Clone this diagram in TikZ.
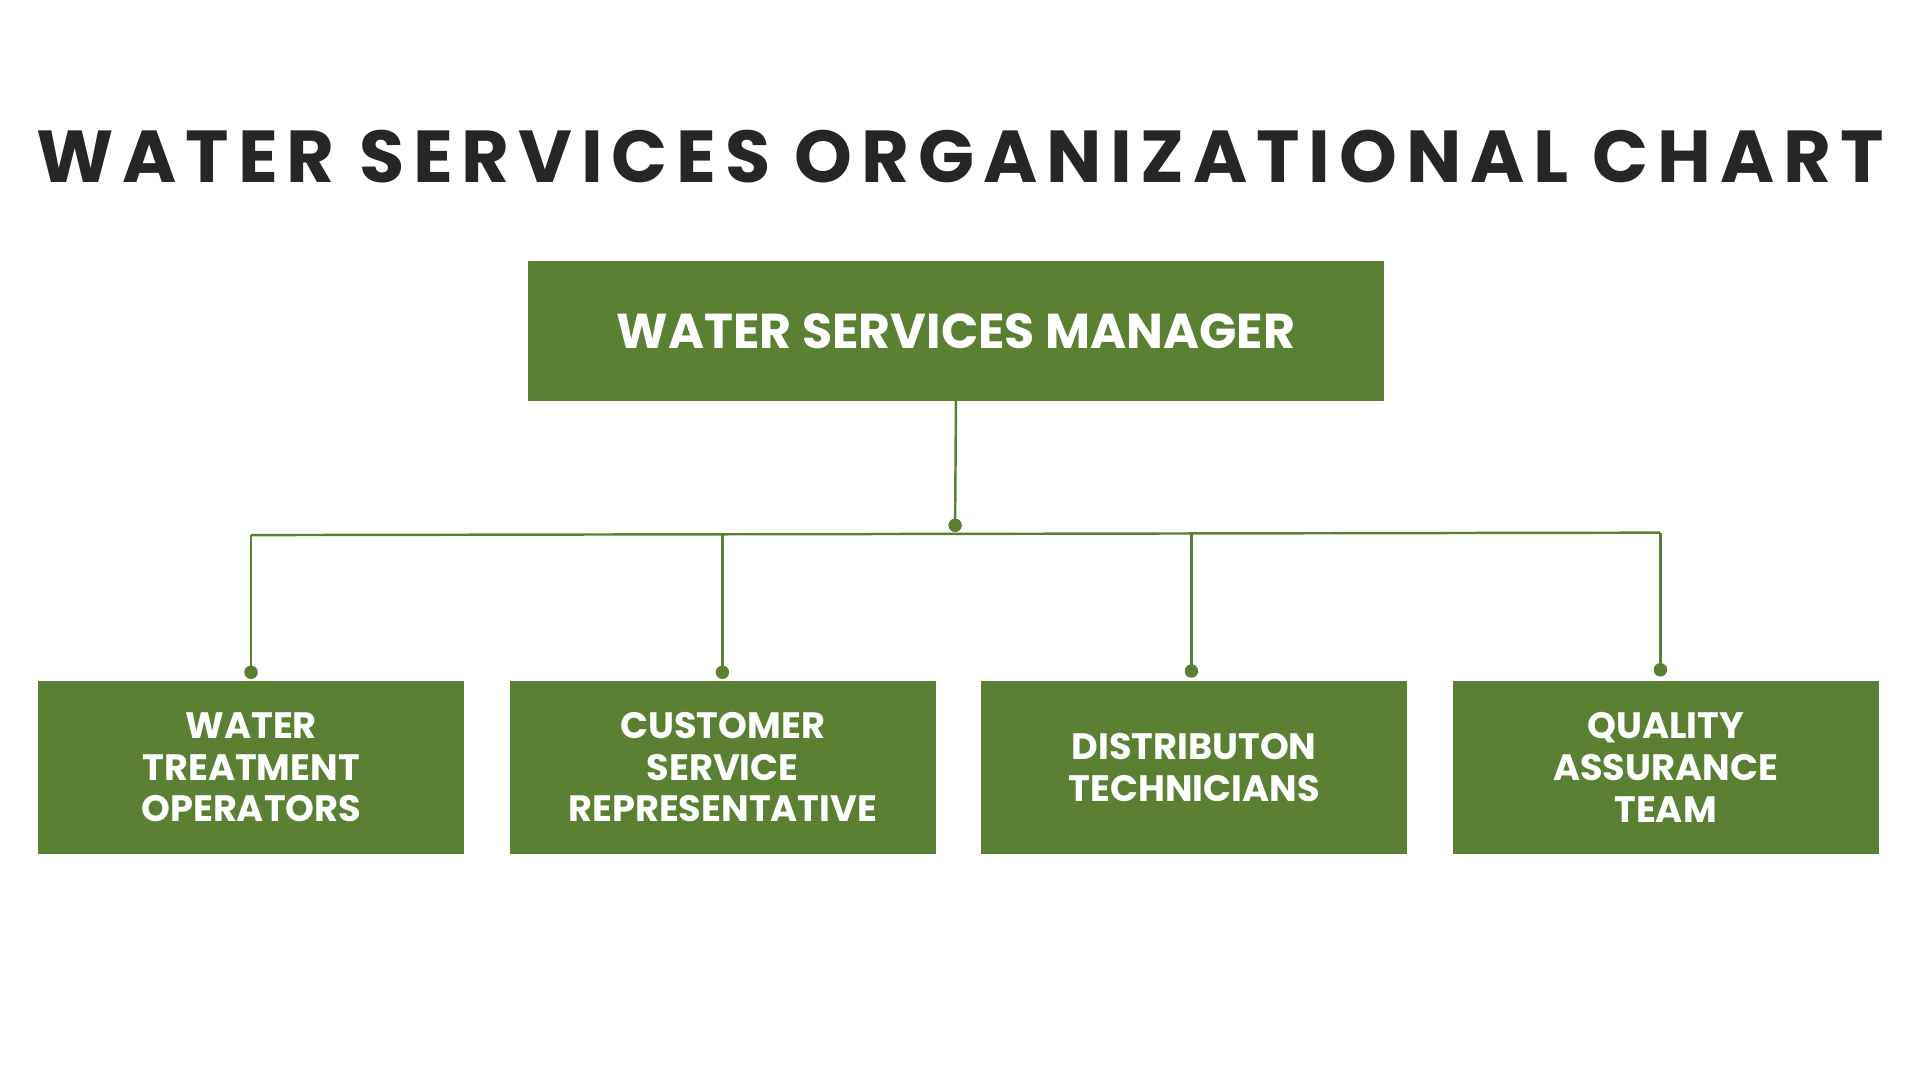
\documentclass[tikz,border=0pt]{standalone}
\usepackage{fontspec}
\setmainfont{Poppins}
\usepackage{graphicx}
\definecolor{grn}{HTML}{5B8033}
\definecolor{ink}{HTML}{262626}
\begin{document}
\begin{tikzpicture}[x=1pt,y=-1pt,
  box/.style={fill=grn,draw=none,inner sep=0pt,anchor=north west,text=white,font=\fontsize{30}{34}\selectfont\bfseries,align=center},
  ln/.style={draw=grn,line width=2pt},
  dot/.style={circle,fill=grn,inner sep=0pt,minimum size=11pt}]
\useasboundingbox (0,0) rectangle (1568,882);
\node[text=ink,font=\bfseries] (title) at (784,128) {\resizebox{1508pt}{!}{\addfontfeature{LetterSpace=12}WATER SERVICES ORGANIZATIONAL CHART}};
\node[box,minimum width=699pt,minimum height=114pt,font=\fontsize{40}{44}\selectfont\bfseries] (mgr) at (431,213) {WATER SERVICES MANAGER};
\node[box,minimum width=348pt,minimum height=141pt] (b1) at (31,556) {WATER\\TREATMENT\\OPERATORS};
\node[box,minimum width=348pt,minimum height=141pt] (b2) at (416,556) {CUSTOMER\\SERVICE\\REPRESENTATIVE};
\node[box,minimum width=348pt,minimum height=141pt] (b3) at (801,556) {DISTRIBUTON\\TECHNICIANS};
\node[box,minimum width=348pt,minimum height=141pt] (b4) at (1186,556) {QUALITY\\ASSURANCE\\TEAM};
\node[dot] (d0) at (780,429) {};
\node[dot] (d1) at (205,549) {};
\node[dot] (d2) at (590,549) {};
\node[dot] (d3) at (973,548) {};
\node[dot] (d4) at (1356,547) {};
\coordinate (h1) at (205,437);
\coordinate (h2) at (590,436);
\coordinate (h3) at (973,435.5);
\coordinate (h4) at (1356,435);
\draw[ln] (mgr.south) -- (d0.center);
\draw[ln] (h1) -- (h4);
\draw[ln] (h1) -- (d1.center);
\draw[ln] (h2) -- (d2.center);
\draw[ln] (h3) -- (d3.center);
\draw[ln] (h4) -- (d4.center);
\end{tikzpicture}
\end{document}
